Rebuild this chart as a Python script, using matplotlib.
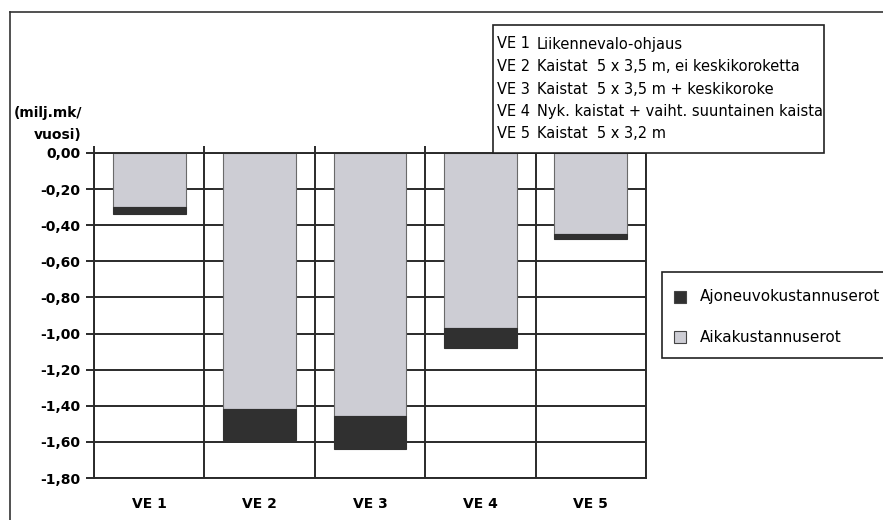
import matplotlib
matplotlib.use("Agg")
import matplotlib.pyplot as plt
from matplotlib.lines import Line2D
from matplotlib.patches import Rectangle
from matplotlib.ticker import FixedLocator, FuncFormatter

# ── Data ───────────────────────────────────────────────────────────────────
categories = ["VE 1", "VE 2", "VE 3", "VE 4", "VE 5"]
aika = [-0.30, -1.42, -1.455, -0.97, -0.45]          # Aikakustannuserot
ajoneuvo = [-0.04, -0.17, -0.185, -0.11, -0.028]     # Ajoneuvokustannuserot
series_names = ["Ajoneuvokustannuserot", "Aikakustannuserot"]
ve_codes = ["VE 1", "VE 2", "VE 3", "VE 4", "VE 5"]
ve_desc = [
    "Liikennevalo-ohjaus",
    "Kaistat  5 x 3,5 m, ei keskikoroketta",
    "Kaistat  5 x 3,5 m + keskikoroke",
    "Nyk. kaistat + vaiht. suuntainen kaista",
    "Kaistat  5 x 3,2 m",
]
yticks = [0.0, -0.2, -0.4, -0.6, -0.8, -1.0, -1.2, -1.4, -1.6, -1.8]

GRID = "#2a2a2a"
LIGHT = "#cdcdd4"
DARK = "#303030"
W, H = 883, 520

fig = plt.figure(figsize=(W / 100, H / 100), dpi=100, facecolor="white")
ax = fig.add_axes([94 / W, 1 - 478 / H, (646 - 94) / W, (478 - 153) / H])

x = range(len(categories))
ax.bar(x, aika, width=0.66, color=LIGHT, edgecolor="#6a6a6a", linewidth=0.8, zorder=2)
ax.bar(x, ajoneuvo, width=0.66, bottom=aika, color=DARK, edgecolor=DARK,
       linewidth=0.8, zorder=2)

ax.set_xlim(-0.5, len(categories) - 0.5)
ax.set_ylim(-1.8, 0)
ax.set_axisbelow(True)

ax.yaxis.set_major_locator(FixedLocator(yticks))
ax.yaxis.set_major_formatter(FuncFormatter(lambda v, _: f"{v:.2f}".replace(".", ",")))
ax.grid(axis="y", color=GRID, linewidth=1.4)
ax.set_xticks(list(x))
ax.set_xticklabels(categories, fontweight="bold", fontsize=10)
ax.xaxis.set_minor_locator(FixedLocator([i - 0.5 for i in range(len(categories) + 1)]))
ax.grid(axis="x", which="minor", color=GRID, linewidth=1.4)
ax.tick_params(axis="x", which="major", length=0, pad=14)
ax.tick_params(axis="x", which="minor", bottom=False, top=True, direction="out",
               length=5, width=1.4, color=GRID)
ax.tick_params(axis="y", direction="out", length=6, width=1.4, color=GRID,
               labelsize=10, pad=4)
for lab in ax.get_yticklabels():
    lab.set_fontweight("bold")
for spine in ax.spines.values():
    spine.set_color(GRID)
    spine.set_linewidth(1.4)

fig.text(82 / W, 1 - 113 / H, "(milj.mk/", ha="right", va="center",
         fontsize=10, fontweight="bold")
fig.text(82 / W, 1 - 135 / H, "vuosi)", ha="right", va="center",
         fontsize=10, fontweight="bold")

# outer frame (top + left only)
fig.add_artist(Line2D([10 / W, 1.0], [1 - 12 / H, 1 - 12 / H], color="#333333", lw=1.2))
fig.add_artist(Line2D([10 / W, 10 / W], [1 - 12 / H, 0.0], color="#333333", lw=1.2))

# description box
fig.add_artist(Rectangle((493 / W, 1 - 153 / H), (824 - 493) / W, (153 - 25) / H,
                         transform=fig.transFigure, facecolor="white",
                         edgecolor="#222222", lw=1.2, zorder=5))
for i, (code, desc) in enumerate(zip(ve_codes, ve_desc)):
    yy = 1 - (44 + i * 22.5) / H
    fig.text(497 / W, yy, code, ha="left", va="center", fontsize=10.5, zorder=6)
    fig.text(537 / W, yy, desc, ha="left", va="center", fontsize=10.5, zorder=6)

# series legend
fig.add_artist(Rectangle((662 / W, 1 - 358 / H), 260 / W, (358 - 272) / H,
                         transform=fig.transFigure, facecolor="white",
                         edgecolor="#222222", lw=1.2, zorder=5))
for i, (name, col) in enumerate(zip(series_names, [DARK, LIGHT])):
    yy = 297 + i * 40
    fig.add_artist(Rectangle((674 / W, 1 - (yy + 6) / H), 12 / W, 12 / H,
                             transform=fig.transFigure, facecolor=col,
                             edgecolor="#444444", lw=0.8, zorder=6))
    fig.text(700 / W, 1 - yy / H, name, ha="left", va="center", fontsize=11, zorder=6)

fig.savefig("out.png", dpi=100, facecolor="white")
